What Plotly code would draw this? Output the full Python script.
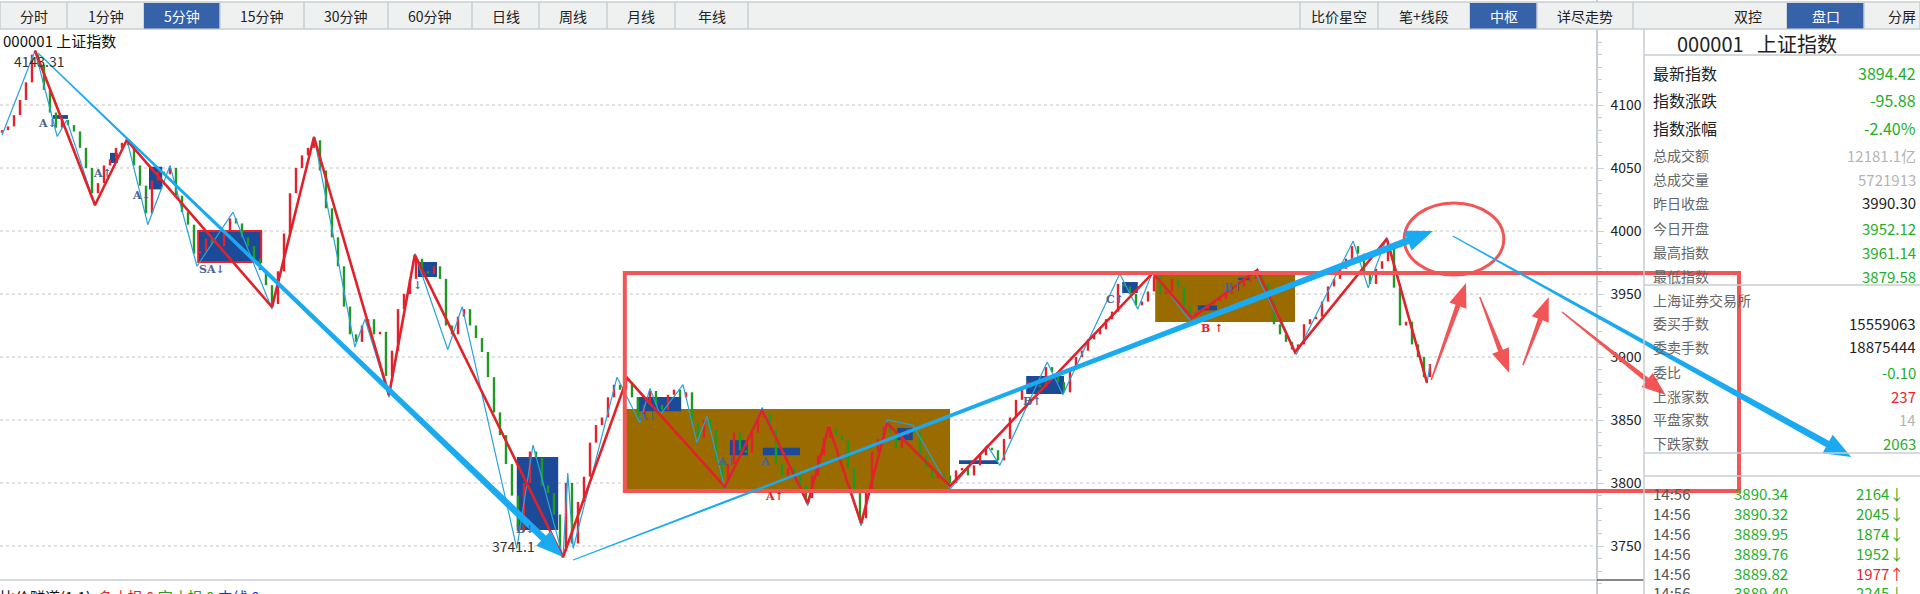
import math
import plotly.graph_objects as go

W, H = 1920, 594

# ---------------- data ----------------
# 5-minute closes, one per bar (bar index 0 .. 238)
CLOSE = [
    4080, 4083, 4092, 4104, 4118, 4140, 4132, 4112, 4094, 4082,
    4088, 4084, 4079, 4066, 4050, 4030, 4038, 4052, 4057, 4066,
    4070, 4068, 4052, 4036, 4014, 4040, 4047, 4045, 4050, 4028,
    4015, 4005, 3982, 3984, 3994, 3990, 3988, 4000, 4010, 4006,
    3995, 3988, 3978, 3969, 3957, 3942, 3968, 3998, 4030, 4050,
    4060, 4066, 4072, 4048, 4018, 3995, 3972, 3940, 3918, 3912,
    3925, 3930, 3918, 3920, 3885, 3905, 3938, 3950, 3962, 3978,
    3968, 3966, 3972, 3962, 3925, 3918, 3932, 3938, 3925, 3915,
    3904, 3884, 3856, 3838, 3815, 3790, 3762, 3800, 3825, 3820,
    3798, 3792, 3775, 3746, 3800, 3752, 3785, 3805, 3832, 3846,
    3852, 3868, 3878, 3874, 3880, 3868, 3852, 3862, 3873, 3862,
    3858, 3870, 3874, 3868, 3872, 3848, 3836, 3850, 3842, 3818,
    3802, 3815, 3840, 3826, 3824, 3840, 3852, 3855, 3842, 3815,
    3806, 3812, 3806, 3798, 3788, 3806, 3822, 3836, 3843, 3838,
    3834, 3812, 3792, 3772, 3795, 3825, 3835, 3845, 3840, 3828,
    3838, 3843, 3840, 3822, 3812, 3804, 3808, 3806, 3800, 3810,
    3812, 3806, 3814, 3822, 3828, 3826, 3818, 3835, 3852, 3866,
    3876, 3880, 3878, 3876, 3892, 3888, 3880, 3872, 3890, 3900,
    3905, 3914, 3918, 3922, 3930, 3936, 3958, 3956, 3950, 3941,
    3944, 3952, 3964, 3950, 3952, 3962, 3956, 3940, 3933, 3936,
    3938, 3942, 3945, 3946, 3950, 3952, 3956, 3960, 3962, 3965,
    3958, 3945, 3926, 3918, 3912, 3906, 3910, 3926, 3930, 3932,
    3944, 3956, 3962, 3970, 3978, 3988, 3982, 3965, 3958, 3970,
    3976, 3990, 3955, 3925, 3928, 3910, 3900, 3884, 3894.42,
]
FIRST_OPEN = 4078.0

# segment (thick red) pivots: bar index, price
RED_PIVOT_X = [5.5, 15.5, 20.8, 45.0, 52.0, 64.5, 68.8, 93.5, 104.2, 120.5, 126.7,
               134.3, 137.8, 143.2, 147.5, 158.0, 191.8, 198.3, 209.2, 215.5, 230.8, 237.5]
RED_PIVOT_P = [4143.3, 4020.6, 4072.2, 3939.7, 4074.6, 3869.8, 3981.0, 3741.1, 3883.3, 3796.8, 3858.0,
               3784.0, 3845.0, 3768.0, 3847.6, 3797.6, 3966.7, 3931.0, 3969.0, 3904.0, 3993.7, 3879.6]

# stroke (thin cyan) pivots
CYAN_PIVOT_X = [0, 5.5, 9.2, 10.8, 15.5, 20.8, 24.3, 28.0, 32.5, 38.5, 45.0, 52.0, 58.8, 60.5,
                64.5, 68.8, 74.3, 76.7, 85.8, 88.5, 93.5, 94.3, 95.2, 102.5, 106.3, 108.0,
                109.7, 113.5, 115.8, 117.5, 120.5, 126.7, 134.3, 137.8, 143.2, 147.5, 151.8,
                158.0, 164.2, 166.3, 174.2, 176.8, 186.3, 189.3, 191.8, 197.8, 208.8, 215.7,
                225.2, 227.7, 230.8, 237.5, 238.0]
CYAN_PIVOT_P = [4076, 4143, 4075, 4088, 4020, 4073, 4005, 4052, 3972, 4015, 3938, 4075, 3908, 3930,
                3868, 3982, 3906, 3940, 3748, 3830, 3741, 3808, 3748, 3884, 3848, 3875,
                3854, 3878, 3832, 3853, 3795, 3860, 3782, 3846, 3766, 3850, 3846,
                3795, 3830, 3814, 3896, 3870, 3966, 3938, 3968, 3930, 3968, 3902,
                3992, 3955, 3995, 3879, 3894]

# small pivot zones (blue), bar index range / price range
BLUE_BOX_X0 = [8.5, 18.0, 24.5, 32.7, 69.3, 85.8, 105.8, 121.3, 126.8, 149.2, 159.5, 170.7, 186.7, 199.3, 206.0]
BLUE_BOX_X1 = [11.0, 19.3, 26.7, 43.2, 72.5, 92.7, 113.2, 124.3, 133.0, 151.8, 166.0, 177.0, 189.3, 202.5, 208.0]
BLUE_BOX_P0 = [4089, 4054, 4033, 3975.4, 3963.5, 3762.7, 3857, 3822, 3822, 3834, 3815, 3870.6, 3950.8, 3937, 3961]
BLUE_BOX_P1 = [4092, 4062, 4051, 4000.0, 3975.4, 3820.6, 3868.3, 3834, 3828, 3843.7, 3818, 3885, 3959.5, 3941, 3963]
OUTLINED_BLUE_BOX = 3

# large pivot zones (brown)
BROWN_BOX_X0 = [103.8, 192.2]
BROWN_BOX_X1 = [158.0, 215.5]
BROWN_BOX_P0 = [3795.2, 3927.8]
BROWN_BOX_P1 = [3858.7, 3967.5]

# hand drawn marks
ZONE_X = [103.8, 289.5]
ZONE_P = [3793.6, 3966.7]
ELLIPSE_X = [233.7, 250.3]
ELLIPSE_P = [3965.0, 4022.2]

BLUE_ARROW_X0 = [6.0, 95.2, 241.8]
BLUE_ARROW_P0 = [4141.3, 3738.9, 3996.0]
BLUE_ARROW_X1 = [93.5, 238.5, 308.2]
BLUE_ARROW_P1 = [3741.3, 4000.0, 3820.6]

RED_ARROW_X0 = [238.2, 246.3, 253.5, 260.0]
RED_ARROW_P0 = [3881.7, 3947.6, 3893.7, 3935.7]
RED_ARROW_X1 = [244.0, 251.2, 257.8, 277.3]
RED_ARROW_P1 = [3958.7, 3887.3, 3947.6, 3869.8]

MARK_TEXT = ["A↓", "A↑", "A↓", "SA↓", "↓", "B↓", "A↓", "A↑", "A", "B↑", "C↑", "B↑", "A↑", "B ↑"]
MARK_X = [7.5, 16.8, 23.3, 35.0, 69.3, 87.3, 107.5, 120.8, 127.2, 171.8, 185.5, 205.2, 128.8, 201.7]
MARK_P = [4085.7, 4046, 4027.8, 3969.8, 3957, 3763, 3852.4, 3816.7, 3816.7, 3865, 3946, 3954.8, 3788.9, 3923]
MARK_IS_RED = [False] * 12 + [True, True]

HIGH_LABEL, HIGH_X, HIGH_P = "4143.31", 6.3, 4134.9
LOW_LABEL, LOW_X, LOW_P = "3741.1", 85.3, 3750.0

Y_TICKS = [3750, 3800, 3850, 3900, 3950, 4000, 4050, 4100]

TABS = ["分时", "1分钟", "5分钟", "15分钟", "30分钟", "60分钟", "日线", "周线", "月线", "年线"]
TAB_EDGES = [0, 67, 144, 220, 304, 388, 472, 539, 607, 675, 748]
TAB_SELECTED = 2
TOOLS = ["比价星空", "笔+线段", "中枢", "详尽走势"]
TOOL_EDGES = [1300, 1378, 1470, 1537, 1633]
TOOL_SELECTED = 2
PANEL_TABS = ["双控", "盘口", "分屏"]
PANEL_TAB_EDGES = [1708, 1787, 1864, 1940]
PANEL_TAB_SELECTED = 1

PANEL_TITLE = "000001   上证指数"
QUOTE_LABELS = ["最新指数", "指数涨跌", "指数涨幅", "总成交额", "总成交量", "昨日收盘", "今日开盘", "最高指数", "最低指数",
                "上海证券交易所", "委买手数", "委卖手数", "委比", "上涨家数", "平盘家数", "下跌家数"]
QUOTE_VALUES = ["3894.42", "-95.88", "-2.40%", "12181.1亿", "5721913", "3990.30", "3952.12", "3961.14", "3879.58",
                "", "15559063", "18875444", "-0.10", "237", "14", "2063"]
QUOTE_KIND = ["g", "g", "g", "l", "l", "k", "g", "g", "g", "k", "k", "k", "g", "r", "l", "g"]

TRADE_TIME = ["14:56", "14:56", "14:56", "14:56", "14:56", "14:56"]
TRADE_PRICE = ["3890.34", "3890.32", "3889.95", "3889.76", "3889.82", "3889.40"]
TRADE_VOL = ["2164↓", "2045↓", "1874↓", "1952↓", "1977↑", "2245↓"]

# ---------------- layout constants (pixels) ----------------
CHART_RIGHT = 1597
PANEL_LEFT = 1644
TOOLBAR_TOP, TOOLBAR_BOTTOM = 2, 29
CHART_BOTTOM = 580
PX_PER_BAR = 6.0
PX_PER_POINT = 1.26
X_RANGE = [-2 / PX_PER_BAR, (W - 2) / PX_PER_BAR]
Y_RANGE = [4100 - (H - 105) / PX_PER_POINT, 4100 + 105 / PX_PER_POINT]
PANEL_TITLE_Y = 43
PANEL_LINES_Y = [55, 285, 453, 476]
QUOTE_ROW_Y = [73, 100, 128, 155, 179, 203, 228, 252, 276, 300, 323, 347, 372, 396, 419, 443]
TRADE_ROW_Y = [493, 513, 533, 553, 573, 592]

CJK = "Noto Sans CJK SC"
GREEN, RED, LGRAY, DARK = "#1fae2a", "#e8262d", "#b4b4b4", "#222222"
KIND_COLOR = {"g": GREEN, "r": RED, "l": LGRAY, "k": DARK}
CANDLE_UP, CANDLE_DN = "#e3222b", "#1e9a22"
SEG_RED = "#e0222a"
STROKE_CYAN = "#2aa2d8"
BOX_BLUE = "#1b4b98"
BOX_BROWN = "#9a6c00"
MARK_RED_C = "#f25555"
ARROW_BLUE = "#1aaaf2"
GRID = "#c4c4c4"
LINEC = "#c9ced3"


def to_px(i, p):
    return ((i - X_RANGE[0]) / (X_RANGE[1] - X_RANGE[0]) * W,
            (Y_RANGE[1] - p) / (Y_RANGE[1] - Y_RANGE[0]) * H)


def to_data(px, py):
    return (X_RANGE[0] + px / W * (X_RANGE[1] - X_RANGE[0]),
            Y_RANGE[1] - py / H * (Y_RANGE[1] - Y_RANGE[0]))


def xp(px):
    return px / W


def yp(py):
    return 1 - py / H


def arrow_path(x0, p0, x1, p1, w0, w1, head_len, head_half):
    ax, ay = to_px(x0, p0)
    bx, by = to_px(x1, p1)
    dx, dy = bx - ax, by - ay
    L = math.hypot(dx, dy)
    ux, uy = dx / L, dy / L
    nx, ny = -uy, ux
    hx, hy = bx - ux * head_len, by - uy * head_len
    pts = [(ax + nx * w0 / 2, ay + ny * w0 / 2),
           (hx + nx * w1 / 2, hy + ny * w1 / 2),
           (hx + nx * head_half, hy + ny * head_half),
           (bx, by),
           (hx - nx * head_half, hy - ny * head_half),
           (hx - nx * w1 / 2, hy - ny * w1 / 2),
           (ax - nx * w0 / 2, ay - ny * w0 / 2)]
    out = []
    for k, (px, py) in enumerate(pts):
        X, Y = to_data(px, py)
        out.append(("M" if k == 0 else "L") + f"{X:.4f},{Y:.4f}")
    return " ".join(out) + " Z"


def text(x, y, s, size, color, xanchor="center", yanchor="middle", ref="paper", family=CJK):
    return dict(x=x, y=y, xref="x" if ref == "data" else "paper", yref="y" if ref == "data" else "paper",
                text=s, showarrow=False, xanchor=xanchor, yanchor=yanchor,
                font=dict(family=family, size=size, color=color))


fig = go.Figure()

# ---------------- candles ----------------
opens = [FIRST_OPEN] + CLOSE[:-1]
up_x, up_b, up_h, dn_x, dn_b, dn_h = [], [], [], [], [], []
for i, (o, c) in enumerate(zip(opens, CLOSE)):
    lo, hi = min(o, c), max(o, c)
    h = max(hi - lo, 0.8)
    if c >= o:
        up_x.append(i); up_b.append(lo); up_h.append(h)
    else:
        dn_x.append(i); dn_b.append(lo); dn_h.append(h)

fig.add_trace(go.Bar(x=up_x, y=up_h, base=up_b, width=0.4, marker=dict(color=CANDLE_UP, line=dict(width=0)),
                     hoverinfo="skip"))
fig.add_trace(go.Bar(x=dn_x, y=dn_h, base=dn_b, width=0.4, marker=dict(color=CANDLE_DN, line=dict(width=0)),
                     hoverinfo="skip"))
fig.add_trace(go.Scatter(x=CYAN_PIVOT_X, y=CYAN_PIVOT_P, mode="lines",
                         line=dict(color=STROKE_CYAN, width=1.2), hoverinfo="skip"))
fig.add_trace(go.Scatter(x=RED_PIVOT_X, y=RED_PIVOT_P, mode="lines",
                         line=dict(color=SEG_RED, width=2.6), hoverinfo="skip"))

shapes = []
# dotted grid lines stopping at the price axis
for v in Y_TICKS:
    shapes.append(dict(type="line", xref="x", yref="y", x0=X_RANGE[0], x1=to_data(CHART_RIGHT, 0)[0],
                       y0=v, y1=v, line=dict(color=GRID, width=1, dash="dot"), layer="below"))
# brown and blue pivot zones
for x0, x1, p0, p1 in zip(BROWN_BOX_X0, BROWN_BOX_X1, BROWN_BOX_P0, BROWN_BOX_P1):
    shapes.append(dict(type="rect", xref="x", yref="y", x0=x0, x1=x1, y0=p0, y1=p1,
                       fillcolor=BOX_BROWN, line=dict(width=0), layer="below"))
for k, (x0, x1, p0, p1) in enumerate(zip(BLUE_BOX_X0, BLUE_BOX_X1, BLUE_BOX_P0, BLUE_BOX_P1)):
    edge = dict(color="#e8202a", width=2) if k == OUTLINED_BLUE_BOX else dict(width=0)
    shapes.append(dict(type="rect", xref="x", yref="y", x0=x0, x1=x1, y0=p0, y1=p1,
                       fillcolor=BOX_BLUE, line=edge, layer="below"))

# hand-drawn marks on top
shapes.append(dict(type="rect", xref="x", yref="y", x0=ZONE_X[0], x1=ZONE_X[1], y0=ZONE_P[0], y1=ZONE_P[1],
                   line=dict(color=MARK_RED_C, width=4), fillcolor="rgba(0,0,0,0)", layer="above"))
shapes.append(dict(type="circle", xref="x", yref="y", x0=ELLIPSE_X[0], x1=ELLIPSE_X[1],
                   y0=ELLIPSE_P[0], y1=ELLIPSE_P[1], line=dict(color=MARK_RED_C, width=3), layer="above"))
for x0, p0, x1, p1 in zip(BLUE_ARROW_X0, BLUE_ARROW_P0, BLUE_ARROW_X1, BLUE_ARROW_P1):
    shapes.append(dict(type="path", xref="x", yref="y", path=arrow_path(x0, p0, x1, p1, 1.2, 7, 27, 10.5),
                       fillcolor=ARROW_BLUE, line=dict(width=0), layer="above"))
for x0, p0, x1, p1 in zip(RED_ARROW_X0, RED_ARROW_P0, RED_ARROW_X1, RED_ARROW_P1):
    shapes.append(dict(type="path", xref="x", yref="y", path=arrow_path(x0, p0, x1, p1, 1.5, 5, 24, 9),
                       fillcolor=MARK_RED_C, line=dict(width=0), layer="above"))

# ---------------- frame: bottom line, panel separators ----------------
shapes.append(dict(type="line", xref="paper", yref="paper", x0=0, x1=xp(CHART_RIGHT),
                   y0=yp(CHART_BOTTOM), y1=yp(CHART_BOTTOM), line=dict(color=LINEC, width=1.5)))
shapes.append(dict(type="line", xref="paper", yref="paper", x0=xp(CHART_RIGHT), x1=xp(PANEL_LEFT),
                   y0=yp(CHART_BOTTOM), y1=yp(CHART_BOTTOM), line=dict(color="#111", width=1)))
shapes.append(dict(type="line", xref="paper", yref="paper", x0=xp(PANEL_LEFT), x1=xp(PANEL_LEFT),
                   y0=yp(TOOLBAR_BOTTOM), y1=0, line=dict(color=LINEC, width=1.5)))
for py in PANEL_LINES_Y:
    shapes.append(dict(type="line", xref="paper", yref="paper", x0=xp(PANEL_LEFT), x1=1,
                       y0=yp(py), y1=yp(py), line=dict(color=LINEC, width=1.5)))

# ---------------- toolbar ----------------
shapes.append(dict(type="rect", xref="paper", yref="paper", x0=0, x1=1, y0=yp(TOOLBAR_BOTTOM), y1=yp(TOOLBAR_TOP),
                   fillcolor="#eff1f1", line=dict(color=LINEC, width=1.5), layer="above"))
annotations = []


def tab_row(labels, edges, selected):
    for k, lab in enumerate(labels):
        a, b = edges[k], edges[k + 1]
        if k == selected:
            shapes.append(dict(type="rect", xref="paper", yref="paper", x0=xp(a), x1=xp(b),
                               y0=yp(TOOLBAR_BOTTOM - 0.5), y1=yp(TOOLBAR_TOP + 1),
                               fillcolor="#3562a9", line=dict(width=0), layer="above"))
        shapes.append(dict(type="line", xref="paper", yref="paper", x0=xp(b), x1=xp(b),
                           y0=yp(TOOLBAR_BOTTOM), y1=yp(TOOLBAR_TOP), line=dict(color=LINEC, width=1.5),
                           layer="above"))
        annotations.append(text(xp((a + b) / 2), yp((TOOLBAR_TOP + TOOLBAR_BOTTOM) / 2 + 0.5), lab, 14,
                                "white" if k == selected else DARK))


tab_row(TABS, TAB_EDGES, TAB_SELECTED)
tab_row(TOOLS, TOOL_EDGES, TOOL_SELECTED)
shapes.append(dict(type="line", xref="paper", yref="paper", x0=xp(TOOL_EDGES[0]), x1=xp(TOOL_EDGES[0]),
                   y0=yp(TOOLBAR_BOTTOM), y1=yp(TOOLBAR_TOP), line=dict(color=LINEC, width=1.5), layer="above"))
tab_row(PANEL_TABS, PANEL_TAB_EDGES, PANEL_TAB_SELECTED)

# ---------------- chart texts ----------------
annotations.append(text(xp(1), yp(40), "000001 上证指数", 15, "#111", xanchor="left"))
annotations.append(text(HIGH_X, HIGH_P, HIGH_LABEL, 14, "#333", ref="data"))
annotations.append(text(LOW_X, LOW_P, LOW_LABEL, 14, "#333", ref="data"))
for t, x, p, red in zip(MARK_TEXT, MARK_X, MARK_P, MARK_IS_RED):
    annotations.append(text(x, p, "<b>" + t + "</b>", 11, "#e8202a" if red else "#4d6592",
                            ref="data", family="DejaVu Serif"))
annotations.append(text(xp(-2), yp(584), "比价隧道(1,1)  <span style='color:#e8202a'>多止损 0</span> "
                                         "<span style='color:#2a9a2a'>空止损 0</span> "
                                         "<span style='color:#1f2fd0'>中线 0</span>",
                        15, "#111", xanchor="left", yanchor="top"))

# ---------------- right quote panel ----------------
annotations.append(text(xp(1757), yp(PANEL_TITLE_Y), PANEL_TITLE, 20, "#222"))
for k, (lab, val, kind) in enumerate(zip(QUOTE_LABELS, QUOTE_VALUES, QUOTE_KIND)):
    big = k < 3
    annotations.append(text(xp(1651), yp(QUOTE_ROW_Y[k]), lab, 16 if big else 14,
                            "#222" if big else "#666", xanchor="left"))
    if val:
        annotations.append(text(xp(1918), yp(QUOTE_ROW_Y[k]), val, 16 if big else 15,
                                KIND_COLOR[kind], xanchor="right"))
for k, (t, p, v) in enumerate(zip(TRADE_TIME, TRADE_PRICE, TRADE_VOL)):
    annotations.append(text(xp(1651), yp(TRADE_ROW_Y[k]), t, 15, "#555", xanchor="left"))
    annotations.append(text(xp(1732), yp(TRADE_ROW_Y[k]), p, 15, GREEN, xanchor="left"))
    annotations.append(text(xp(1906), yp(TRADE_ROW_Y[k]), v, 15, RED if v.endswith("↑") else GREEN,
                            xanchor="right"))

fig.update_layout(
    width=W, height=H, autosize=False,
    margin=dict(l=0, r=0, t=0, b=0, pad=0),
    paper_bgcolor="white", plot_bgcolor="white",
    showlegend=False, barmode="overlay",
    xaxis=dict(range=X_RANGE, domain=[0, 1], visible=False, fixedrange=True),
    yaxis=dict(range=Y_RANGE, domain=[0, 1], anchor="free", position=CHART_RIGHT / W, side="right",
               showgrid=False, zeroline=False, showline=True, linecolor=LINEC, linewidth=1.5,
               tickmode="array", tickvals=Y_TICKS, ticktext=[str(v) for v in Y_TICKS],
               ticks="outside", ticklen=6, tickcolor=LINEC, ticklabelstandoff=4,
               tickfont=dict(family=CJK, size=14, color="#222"),
               minor=dict(tick0=3750, dtick=10, ticks="outside", ticklen=4, tickcolor=LINEC, showgrid=False),
               fixedrange=True),
    shapes=shapes,
    annotations=annotations,
)

fig.write_html("out.html", config={"displayModeBar": False},
               post_script="document.body.style.margin='0';document.body.style.overflow='hidden';")
